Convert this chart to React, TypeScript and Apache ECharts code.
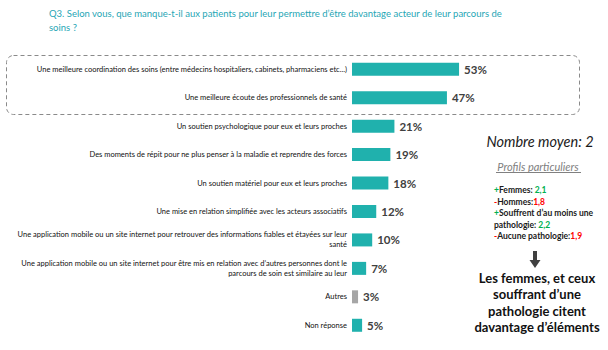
import React, { useEffect, useRef } from "react";
import * as echarts from "echarts";

const title = "Q3. Selon vous, que manque-t-il aux patients pour leur permettre d’être davantage acteur de leur parcours de\nsoins ?";

const categories = [
  "Une meilleure coordination des soins (entre médecins hospitaliers, cabinets, pharmaciens etc...)",
  "Une meilleure écoute des professionnels de santé",
  "Un soutien psychologique pour eux et leurs proches",
  "Des moments de répit pour ne plus penser à la maladie et reprendre des forces",
  "Un soutien matériel pour eux et leurs proches",
  "Une mise en relation simplifiée avec les acteurs associatifs",
  "Une application mobile ou un site internet pour retrouver des informations fiables et étayées sur leur\nsanté",
  "Une application mobile ou un site internet pour être mis en relation avec d’autres personnes dont le\nparcours de soin est similaire au leur",
  "Autres",
  "Non réponse",
];
const values = [53, 47, 21, 19, 18, 12, 10, 7, 3, 5];
const greyCategories = ["Autres"];

const averageText = "Nombre moyen: 2";
const profilesTitle = "Profils particuliers";
const profileLines = [
  "{g|+}{k|Femmes: }{g|2,1}",
  "{r|-}{k|Hommes:}{r|1,8}",
  "{g|+}{k|Souffrent d’au moins une}",
  "{k|pathologie: }{g|2,2}",
  "{r|-}{k|Aucune pathologie:}{r|1,9}",
];
const conclusion = "Les femmes, et ceux\nsouffrant d’une\npathologie citent\ndavantage d’éléments";

const TEAL = "#20B1AD";
const GREY = "#A6A6A6";

export default function App() {
  const ref = useRef<HTMLDivElement>(null);
  useEffect(() => {
    if (!ref.current) return;
    const chart = echarts.init(ref.current, null, { renderer: "svg" });
    const font = "Lato, 'Open Sans', sans-serif";
    chart.setOption({
      animation: false,
      backgroundColor: "#ffffff",
      textStyle: { fontFamily: font },
      grid: { left: 352, top: 55, width: 202, height: 284.5, containLabel: false },
      xAxis: { type: "value", min: 0, max: 100, show: false },
      yAxis: {
        type: "category",
        inverse: true,
        data: categories,
        axisLine: { show: false },
        axisTick: { show: false },
        axisLabel: {
          margin: 5,
          fontSize: 7.5,
          lineHeight: 10,
          color: "#111111",
          fontFamily: font,
          align: "right",
        },
      },
      series: [
        {
          type: "bar",
          barWidth: 13,
          data: values.map((v, i) => ({
            value: v,
            itemStyle: { color: greyCategories.includes(categories[i]) ? GREY : TEAL },
          })),
          label: {
            show: true,
            position: "right",
            distance: 5,
            formatter: "{c}%",
            fontSize: 11.5,
            fontWeight: "bold",
            color: "#404040",
            fontFamily: font,
          },
        },
      ],
      graphic: [
        {
          type: "text",
          left: 49,
          top: 7,
          style: { text: title, fill: "#1FA6B5", font: `9.5px ${font}`, lineHeight: 13.5 },
        },
        {
          type: "rect",
          shape: { x: 6.5, y: 55.5, width: 573, height: 59, r: 7 },
          style: { fill: "none", stroke: "#8a8a8a", lineWidth: 1, lineDash: [4, 3] },
        },
        {
          type: "text",
          x: 540,
          y: 141,
          style: {
            text: averageText,
            fill: "#1a1a1a",
            font: `italic 14.5px ${font}`,
            align: "center",
            verticalAlign: "middle",
          },
        },
        {
          type: "text",
          x: 538,
          y: 166,
          style: {
            text: profilesTitle,
            fill: "#808080",
            font: `italic 11px ${font}`,
            align: "center",
            verticalAlign: "middle",
          },
        },
        {
          type: "line",
          shape: { x1: 496, y1: 172.5, x2: 581, y2: 172.5 },
          style: { stroke: "#808080", lineWidth: 1 },
        },
        ...profileLines.map((t, i) => ({
          type: "text",
          x: 494,
          y: 190 + i * 11.5,
          style: {
            text: t,
            verticalAlign: "middle",
            rich: {
              g: { fill: "#00B050", font: `bold 8.5px ${font}` },
              r: { fill: "#FF0000", font: `bold 8.5px ${font}` },
              k: { fill: "#1a1a1a", font: `bold 8.5px ${font}` },
            },
          },
        })),
        {
          type: "polygon",
          shape: {
            points: [
              [533, 251],
              [537, 251],
              [537, 260],
              [540.5, 260],
              [535, 268],
              [529.5, 260],
              [533, 260],
            ],
          },
          style: { fill: "#404040" },
        },
        {
          type: "text",
          x: 537,
          y: 302.5,
          style: {
            text: conclusion,
            fill: "#111111",
            font: `bold 13px ${font}`,
            lineHeight: 16.3,
            align: "center",
            verticalAlign: "middle",
          },
        },
      ],
    });
    return () => chart.dispose();
  }, []);
  return <div ref={ref} style={{ width: 608, height: 350, position: "absolute", left: 0, top: 0 }} />;
}
